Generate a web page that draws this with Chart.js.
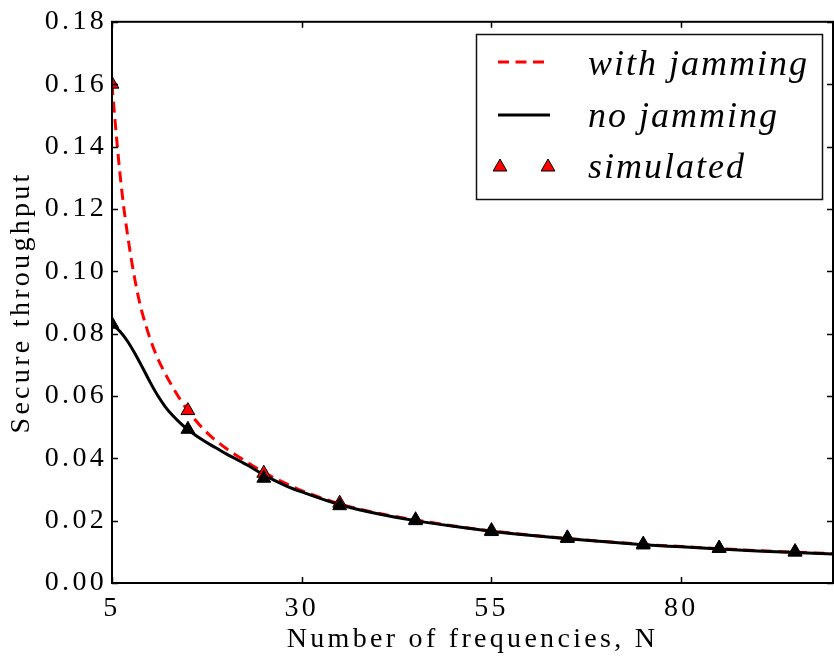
<!DOCTYPE html>
<html>
<head>
<meta charset="utf-8">
<script src="https://cdn.jsdelivr.net/npm/chart.js@4"></script>
<style>
    html, body { margin: 0; padding: 0; background: #fff; overflow: hidden; }
    #wrap { width: 834px; height: 660px; overflow: hidden; }
</style>
</head>
<body>
<div id="wrap"><canvas id="c" width="842" height="660"></canvas></div>
<script>
// values
const nJam = [5, 5.5, 6, 6.5, 7, 7.5, 8, 8.5, 9, 10, 11, 12, 13, 14, 15, 16, 17, 18, 19, 20, 22, 25, 28, 30, 35, 40, 45, 50, 55, 60, 65, 70, 75, 80, 85, 90, 95, 100];
const withJamming = [0.160, 0.1455, 0.1325, 0.1215, 0.1125, 0.1045, 0.0975, 0.0915, 0.0865, 0.0785, 0.0722, 0.0672, 0.0628, 0.0588, 0.0553, 0.0522, 0.0495, 0.0471, 0.0451, 0.0432, 0.0400, 0.0355, 0.0318, 0.0296, 0.0254, 0.0224, 0.0202, 0.0183, 0.0167, 0.0154, 0.0143, 0.0133, 0.0124, 0.0117, 0.0110, 0.0104, 0.0099, 0.0094];

const nNoJam = [5, 6, 7, 8, 9, 10, 11, 12, 13, 14, 15, 16, 17, 18, 19, 20, 21, 22, 23, 25, 28, 30, 35, 40, 45, 50, 55, 60, 65, 70, 75, 80, 85, 90, 95, 100];
const noJamming = [0.0830, 0.0808, 0.0777, 0.0737, 0.0692, 0.0645, 0.0602, 0.0566, 0.0537, 0.0513, 0.0492, 0.0474, 0.0458, 0.0443, 0.0429, 0.0415, 0.0402, 0.0389, 0.0376, 0.0347, 0.0311, 0.0292, 0.0251, 0.0222, 0.0200, 0.0182, 0.0166, 0.0153, 0.0142, 0.0132, 0.0123, 0.0116, 0.0109, 0.0103, 0.0098, 0.0093];

const nSim = [5, 15, 25, 35, 45, 55, 65, 75, 85, 95];
const simWithJamming = [0.160, 0.0553, 0.0352, 0.0256, 0.0203, 0.0168, 0.0145, 0.0125, 0.0112, 0.0101];
const simNoJamming = [0.0830, 0.0493, 0.0336, 0.0248, 0.0200, 0.0165, 0.0143, 0.0122, 0.0111, 0.0099];

const xTicks = [5, 30, 55, 80];
const yTicks = [0, 0.02, 0.04, 0.06, 0.08, 0.10, 0.12, 0.14, 0.16, 0.18];

const legendItems = ['with jamming', 'no jamming', 'simulated'];

const pts = (xs, ys) => xs.map((x, i) => ({x: x, y: ys[i]}));

const serif = "'Liberation Serif', 'Times New Roman', serif";

// frame + inward ticks like the original plot
const framePlugin = {
    id: 'frame',
    beforeDraw(chart) {
        chart.ctx.letterSpacing = '3.3px';
    },
    afterDatasetsDraw(chart) {
        const ctx = chart.ctx;
        const a = chart.chartArea;
        const xs = chart.scales.x, ys = chart.scales.y;
        ctx.save();
        ctx.strokeStyle = '#000';
        ctx.lineWidth = 2;
        ctx.strokeRect(a.left, a.top, a.right - a.left, a.bottom - a.top);
        ctx.lineWidth = 1.5;
        ctx.beginPath();
        xTicks.forEach(v => {
            const px = Math.round(xs.getPixelForValue(v)) + 0.5;
            ctx.moveTo(px, a.bottom); ctx.lineTo(px, a.bottom - 6);
            ctx.moveTo(px, a.top); ctx.lineTo(px, a.top + 6);
        });
        yTicks.forEach(v => {
            const py = Math.round(ys.getPixelForValue(v)) + 0.5;
            ctx.moveTo(a.left, py); ctx.lineTo(a.left + 6, py);
            ctx.moveTo(a.right, py); ctx.lineTo(a.right - 6, py);
        });
        ctx.stroke();
        ctx.restore();
    },
    afterDraw(chart) {
        // legend box (drawn by hand, chart.js legend has no frame)
        const ctx = chart.ctx;
        ctx.save();
        ctx.letterSpacing = '0px';
        ctx.fillStyle = '#fff';
        ctx.fillRect(476, 34, 347, 166);
        ctx.strokeStyle = '#111';
        ctx.lineWidth = 1.5;
        ctx.strokeRect(476.5, 34.5, 346, 165);

        ctx.lineWidth = 3;
        ctx.strokeStyle = '#ff0000';
        ctx.setLineDash([11, 6.5]);
        ctx.beginPath(); ctx.moveTo(498, 62); ctx.lineTo(550, 62); ctx.stroke();
        ctx.setLineDash([]);
        ctx.strokeStyle = '#000';
        ctx.beginPath(); ctx.moveTo(498, 115); ctx.lineTo(550, 115); ctx.stroke();

        ctx.fillStyle = '#ff0000';
        ctx.strokeStyle = '#000';
        ctx.lineWidth = 1;
        [500, 548].forEach(cx => {
            Chart.helpers.drawPoint(ctx, {pointStyle: 'triangle', radius: 8, rotation: 0, borderWidth: 1}, cx, 167);
        });

        ctx.fillStyle = '#000';
        ctx.font = 'italic 36px ' + serif;
        ctx.letterSpacing = '2px';
        ctx.textBaseline = 'alphabetic';
        ctx.textAlign = 'left';
        [75, 127, 178].forEach((y, i) => ctx.fillText(legendItems[i], 588, y));
        ctx.restore();
    }
};

new Chart(document.getElementById('c'), {
    type: 'line',
    data: {
        datasets: [
            {
                label: legendItems[0],
                data: pts(nJam, withJamming),
                borderColor: '#ff0000',
                borderWidth: 3,
                borderDash: [11, 6.5],
                pointRadius: 0,
                cubicInterpolationMode: 'monotone',
                order: 4
            },
            {
                label: legendItems[1],
                data: pts(nNoJam, noJamming),
                borderColor: '#000',
                borderWidth: 3,
                pointRadius: 0,
                cubicInterpolationMode: 'monotone',
                order: 3
            },
            {
                label: legendItems[2],
                data: pts(nSim, simWithJamming),
                showLine: false,
                pointStyle: 'triangle',
                pointRadius: 8,
                pointBackgroundColor: '#ff0000',
                pointBorderColor: '#000',
                pointBorderWidth: 1,
                order: 2
            },
            {
                label: legendItems[2] + ' (no jamming)',
                data: pts(nSim, simNoJamming),
                showLine: false,
                pointStyle: 'triangle',
                pointRadius: 8,
                pointBackgroundColor: '#000',
                pointBorderColor: '#000',
                pointBorderWidth: 1,
                order: 1
            }
        ]
    },
    options: {
        responsive: false,
        animation: false,
        layout: { padding: { top: 17, right: 2, left: 0, bottom: 0 } },
        plugins: {
            legend: { display: false },
            tooltip: { enabled: false }
        },
        scales: {
            x: {
                type: 'linear',
                min: 5,
                max: 100,
                afterBuildTicks: s => { s.ticks = xTicks.map(v => ({value: v})); },
                afterFit: s => { s.height = 77; },
                grid: { display: false, drawTicks: false },
                border: { display: false },
                ticks: {
                    color: '#000',
                    padding: 9,
                    maxRotation: 0,
                    font: { family: serif, size: 28 },
                    callback: v => String(v)
                },
                title: {
                    display: true,
                    text: 'Number of frequencies, N',
                    color: '#000',
                    padding: { top: 0, bottom: 4 },
                    font: { family: serif, size: 28 }
                }
            },
            y: {
                min: 0,
                max: 0.18,
                afterBuildTicks: s => { s.ticks = yTicks.map(v => ({value: v})); },
                afterFit: s => { s.width = 112; },
                grid: { display: false, drawTicks: false },
                border: { display: false },
                ticks: {
                    color: '#000',
                    padding: 5,
                    font: { family: serif, size: 28 },
                    callback: v => v.toFixed(2)
                },
                title: {
                    display: true,
                    text: 'Secure throughput',
                    color: '#000',
                    padding: { top: 5, bottom: 0 },
                    font: { family: serif, size: 28 }
                }
            }
        }
    },
    plugins: [framePlugin]
});
</script>
</body>
</html>
